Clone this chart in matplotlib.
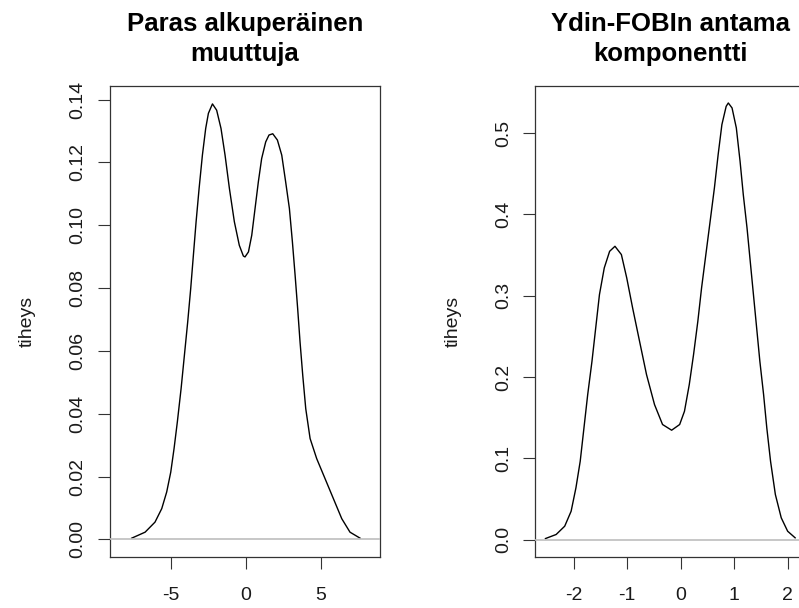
import matplotlib.pyplot as plt

plt.rcParams['font.family'] = ['Liberation Sans', 'DejaVu Sans']

# %% data
x_left = [-7.62, -6.73, -6.07, -5.62, -5.29, -5.02, -4.8, -4.58, -4.33, -4.11, -3.89,
          -3.69, -3.51, -3.33, -3.13, -2.91, -2.69, -2.51, -2.24, -1.96, -1.67, -1.4,
          -1.11, -0.78, -0.45, -0.18, -0.07, 0.16, 0.38, 0.6, 0.82, 1.04, 1.31, 1.53,
          1.78, 2.09, 2.38, 2.64, 2.89, 3.09, 3.27, 3.44, 3.6, 3.78, 3.98, 4.27, 4.71,
          5.27, 5.82, 6.38, 6.93, 7.6]
y_left = [0.0004, 0.0023, 0.0055, 0.0098, 0.0151, 0.0214, 0.0289, 0.0374, 0.0480, 0.0586, 0.0692,
          0.0798, 0.0905, 0.1011, 0.1117, 0.1223, 0.1308, 0.1356, 0.1386, 0.1366, 0.1308, 0.1223,
          0.1117, 0.1011, 0.0936, 0.0902, 0.0899, 0.0915, 0.0968, 0.1053, 0.1138, 0.1212, 0.1265, 0.1287,
          0.1291, 0.1271, 0.1223, 0.1138, 0.1053, 0.0947, 0.0841, 0.0735, 0.0628, 0.0522, 0.0416, 0.0321, 0.0257,
          0.0193, 0.0130, 0.0066, 0.0023, 0.0004]

x_right = [-2.53, -2.33, -2.17, -2.05, -1.96, -1.88, -1.81, -1.74, -1.66, -1.59, -1.52,
           -1.43, -1.33, -1.23, -1.11, -1.01, -0.9, -0.77, -0.64, -0.49, -0.34, -0.17,
           -0.02, 0.07, 0.16, 0.24, 0.32, 0.39, 0.47, 0.55, 0.63, 0.7, 0.77, 0.85, 0.89,
           0.96, 1.04, 1.11, 1.17, 1.24, 1.3, 1.36, 1.42, 1.48, 1.55, 1.61, 1.68, 1.77,
           1.88, 2.0, 2.14]
y_right = [0.0012, 0.0062, 0.0164, 0.0348, 0.0636, 0.0963, 0.1373, 0.1783, 0.2193, 0.2604, 0.3014,
           0.3342, 0.3546, 0.3608, 0.3506, 0.3219, 0.285, 0.2439, 0.203, 0.166, 0.1415, 0.1345,
           0.1415, 0.1578, 0.1907, 0.2276, 0.2685, 0.3096, 0.3506, 0.3915, 0.4326, 0.4736, 0.5105, 0.533, 0.5371,
           0.531, 0.5064, 0.4653, 0.4244, 0.3834, 0.3423, 0.3014, 0.2604, 0.2193, 0.1783, 0.1373, 0.0963, 0.0554,
           0.0267, 0.0102, 0.0021]

titles = ["Paras alkuperäinen\nmuuttuja", "Ydin-FOBIn antama\nkomponentti"]
ylabel = "tiheys"
xticks_left = [-5, 0, 5]
yticks_left = [0.00, 0.02, 0.04, 0.06, 0.08, 0.10, 0.12, 0.14]
ylabels_left = ["0.00", "0.02", "0.04", "0.06", "0.08", "0.10", "0.12", "0.14"]
xticks_right = [-2, -1, 0, 1, 2]
yticks_right = [0.0, 0.1, 0.2, 0.3, 0.4, 0.5]
ylabels_right = ["0.0", "0.1", "0.2", "0.3", "0.4", "0.5"]

# %% figure
W, H = 799, 608
fig = plt.figure(figsize=(W / 100, H / 100), dpi=100)
ax1 = fig.add_axes([110 / W, (H - 557) / H, 270 / W, 471 / H])
ax2 = fig.add_axes([535.3 / W, (H - 557) / H, 270 / W, 471 / H])

panels = [
    (ax1, x_left, y_left, xticks_left, yticks_left, ylabels_left, (-9.07, 8.93), (-0.0056, 0.1443)),
    (ax2, x_right, y_right, xticks_right, yticks_right, ylabels_right, (-2.72, 2.33), (-0.0215, 0.558)),
]

for i, (ax, xs, ys, xt, yt, yl, xlim, ylim) in enumerate(panels):
    ax.plot(xs, ys, color='black', lw=1.0, zorder=2)
    ax.axhline(0, color='#bebebe', lw=1.2, zorder=3)
    ax.set_xlim(*xlim)
    ax.set_ylim(*ylim)
    ax.set_xticks(xt)
    ax.set_xticklabels([str(v) for v in xt])
    ax.set_yticks(yt)
    ax.set_yticklabels(yl, rotation=90, va='center')
    ax.tick_params(length=8.4, width=0.8, color='#333333', labelsize=14,
                   labelcolor='#1a1a1a')
    ax.tick_params(axis='x', pad=13)
    ax.tick_params(axis='y', pad=8.5)
    for s in ax.spines.values():
        s.set_color('#333333')
        s.set_linewidth(0.9)
    ax.set_title(titles[i], fontsize=18.5, fontweight='bold', pad=18.2, linespacing=1.3)
    ax.set_ylabel(ylabel, fontsize=14, color='#1a1a1a', labelpad=24)

fig.savefig('out.png', dpi=100)
